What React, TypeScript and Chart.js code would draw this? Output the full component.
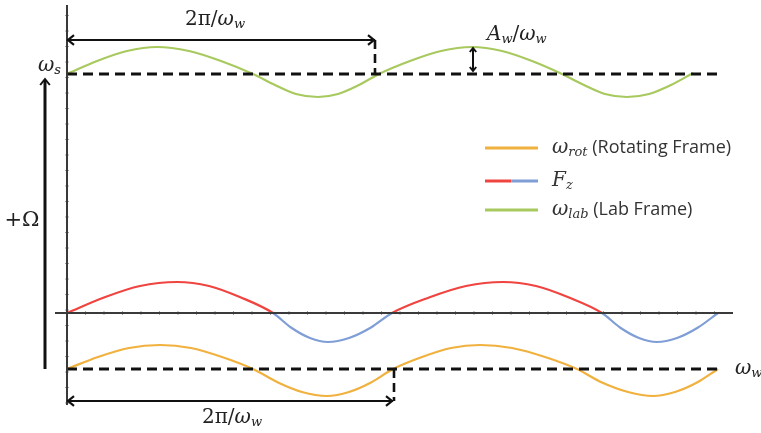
import { useEffect, useRef } from 'react';
import { Chart, registerables } from 'chart.js';

Chart.register(...registerables);

// Schematic units: x = time (origin at the vertical axis), y = frequency (origin at the F_z axis)
const labT = [0, 30, 60, 90, 122, 154, 186, 208, 229, 251, 271, 292, 312, 343, 374, 405, 435, 465, 495, 517, 538, 560, 582, 604, 626];
const labV = [239, 252, 262, 266, 262, 252, 239, 228, 219, 216, 219, 228, 239, 252, 262, 266, 262, 252, 239, 228, 219, 216, 219, 228, 240];

const fzT = [0, 37, 73, 110, 142, 174, 206, 224, 243, 261, 282, 304, 325, 362, 399, 436, 469, 502, 535, 553, 572, 590, 610, 631, 651];
const fzV = [0, 15.5, 27, 31, 27, 15.5, 0, -14.5, -25, -29, -25, -14.5, 0, 15.5, 27, 31, 27, 15.5, 0, -14.5, -25, -29, -25, -14.5, 0];

const rotT = [0, 31, 62, 93, 124, 155, 186, 211, 235, 260, 282, 304, 326, 355, 384, 413, 445, 478, 510, 535, 561, 586, 608, 630, 651];
const rotV = [-56, -44, -35, -32, -35, -44, -56, -69.5, -79, -83, -79, -69.5, -56, -44, -35, -32, -35, -44, -56, -69.5, -79, -83, -79, -69.5, -56];

const omegaS = 239;      // ω_s level
const omegaW = -56;      // ω_w level
const baseEnd = 653;     // end of dashed reference lines
const periodTop = 308;   // 2π/ω_w marker (lab frame)
const periodBottom = 326; // 2π/ω_w marker (rotating frame)

const legendItems = ['ω_rot (Rotating Frame)', 'F_z', 'ω_lab (Lab Frame)'];

const GREEN = '#a8c95e';
const RED = '#ef4440';
const BLUE = '#7f9ed6';
const ORANGE = '#f1b13e';
const AXIS = '#3a3a3a';

const MATH = '"DejaVu Serif", "Liberation Serif", serif';
const SANS = '"Open Sans", "Noto Sans", sans-serif';

type Part = { t: string; f: string; dy?: number };

function drawRich(ctx: CanvasRenderingContext2D, x: number, y: number, parts: Part[], align: 'left' | 'center') {
  ctx.save();
  ctx.textBaseline = 'middle';
  ctx.textAlign = 'left';
  let w = 0;
  for (const p of parts) {
    ctx.font = p.f;
    w += ctx.measureText(p.t).width;
  }
  let cx = align === 'center' ? x - w / 2 : x;
  for (const p of parts) {
    ctx.font = p.f;
    ctx.fillText(p.t, cx, y + (p.dy || 0));
    cx += ctx.measureText(p.t).width;
  }
  ctx.restore();
}

function arrowHead(ctx: CanvasRenderingContext2D, x: number, y: number, dir: 'l' | 'r' | 'u' | 'd', s = 6) {
  ctx.beginPath();
  if (dir === 'l') { ctx.moveTo(x + s, y - s * 0.8); ctx.lineTo(x, y); ctx.lineTo(x + s, y + s * 0.8); }
  if (dir === 'r') { ctx.moveTo(x - s, y - s * 0.8); ctx.lineTo(x, y); ctx.lineTo(x - s, y + s * 0.8); }
  if (dir === 'u') { ctx.moveTo(x - s * 0.8, y + s); ctx.lineTo(x, y); ctx.lineTo(x + s * 0.8, y + s); }
  if (dir === 'd') { ctx.moveTo(x - s * 0.8, y - s); ctx.lineTo(x, y); ctx.lineTo(x + s * 0.8, y - s); }
  ctx.stroke();
}

const annotPlugin = {
  id: 'annot',
  beforeDatasetsDraw(chart: any) {
    const ctx: CanvasRenderingContext2D = chart.ctx;
    const xs = chart.scales.x, ys = chart.scales.y;
    const X = (v: number) => xs.getPixelForValue(v);
    const Y = (v: number) => ys.getPixelForValue(v);
    ctx.save();
    ctx.strokeStyle = '#a0a0a0';
    ctx.lineWidth = 1;
    // small tick marks on the axes
    for (let v = 18.5; v < 660; v += 18.5) {
      ctx.beginPath();
      ctx.moveTo(X(v), Y(0) - 2);
      ctx.lineTo(X(v), Y(0) + 2);
      ctx.stroke();
    }
    for (let v = -90; v < 305; v += 15.5) {
      ctx.beginPath();
      ctx.moveTo(X(0) - 2, Y(v));
      ctx.lineTo(X(0) + 2, Y(v));
      ctx.stroke();
    }
    ctx.restore();
  },
  afterDatasetsDraw(chart: any) {
    const ctx: CanvasRenderingContext2D = chart.ctx;
    const xs = chart.scales.x, ys = chart.scales.y;
    const X = (v: number) => xs.getPixelForValue(v);
    const Y = (v: number) => ys.getPixelForValue(v);
    ctx.save();
    ctx.strokeStyle = '#111';
    ctx.fillStyle = '#222';
    ctx.lineCap = 'butt';

    // top period arrow
    ctx.lineWidth = 2.2;
    const yt = Y(omegaS + 34);
    ctx.beginPath(); ctx.moveTo(X(0), yt); ctx.lineTo(X(periodTop), yt); ctx.stroke();
    arrowHead(ctx, X(0) + 1, yt, 'l');
    arrowHead(ctx, X(periodTop) - 1, yt, 'r');
    ctx.setLineDash([9, 5]);
    ctx.lineWidth = 2.6;
    ctx.beginPath(); ctx.moveTo(X(periodTop), yt); ctx.lineTo(X(periodTop), Y(omegaS)); ctx.stroke();
    ctx.setLineDash([]);

    // bottom period arrow
    ctx.lineWidth = 2.2;
    const yb = Y(omegaW - 32);
    ctx.beginPath(); ctx.moveTo(X(0), yb); ctx.lineTo(X(periodBottom), yb); ctx.stroke();
    arrowHead(ctx, X(0) + 1, yb, 'l');
    arrowHead(ctx, X(periodBottom) - 1, yb, 'r');
    ctx.setLineDash([9, 5]);
    ctx.lineWidth = 2.6;
    ctx.beginPath(); ctx.moveTo(X(periodBottom + 1), Y(omegaW)); ctx.lineTo(X(periodBottom + 1), yb); ctx.stroke();
    ctx.setLineDash([]);

    // amplitude arrow
    ctx.lineWidth = 2;
    const xa = X(406);
    ctx.beginPath(); ctx.moveTo(xa, Y(265)); ctx.lineTo(xa, Y(242)); ctx.stroke();
    arrowHead(ctx, xa, Y(265), 'u', 4);
    arrowHead(ctx, xa, Y(242), 'd', 4);

    // big +Ω arrow
    ctx.lineWidth = 3;
    const xo = X(-22);
    ctx.beginPath(); ctx.moveTo(xo, Y(omegaW)); ctx.lineTo(xo, Y(omegaS - 6)); ctx.stroke();
    ctx.lineWidth = 2;
    arrowHead(ctx, xo, Y(omegaS - 5), 'u', 6);

    // texts
    ctx.fillStyle = '#222';
    const big = `20px ${MATH}`;
    const bigI = `italic 20px ${MATH}`;
    const sub = `italic 13px ${MATH}`;
    drawRich(ctx, X(148), Y(293), [
      { t: '2π/', f: big }, { t: 'ω', f: bigI }, { t: 'w', f: sub, dy: 5 },
    ], 'center');
    drawRich(ctx, X(165), Y(-105), [
      { t: '2π/', f: big }, { t: 'ω', f: bigI }, { t: 'w', f: sub, dy: 5 },
    ], 'center');
    drawRich(ctx, X(420), Y(278), [
      { t: 'A', f: bigI }, { t: 'w', f: sub, dy: 5 }, { t: '/', f: big }, { t: 'ω', f: bigI }, { t: 'w', f: sub, dy: 5 },
    ], 'left');
    drawRich(ctx, X(-29), Y(247), [
      { t: 'ω', f: bigI }, { t: 's', f: sub, dy: 5 },
    ], 'left');
    drawRich(ctx, X(668), Y(-56), [
      { t: 'ω', f: bigI }, { t: 'w', f: sub, dy: 5 },
    ], 'left');
    drawRich(ctx, X(-45), Y(92), [
      { t: '+Ω', f: `21px ${MATH}` },
    ], 'center');

    // legend
    const lx0 = 485, lx1 = 538, tx = 552;
    const rows = [148, 181, 210];
    const legI = `italic 20px ${MATH}`;
    const legS = `italic 13px ${MATH}`;
    const legT = `18px ${SANS}`;
    ctx.lineWidth = 3;
    ctx.strokeStyle = ORANGE;
    ctx.beginPath(); ctx.moveTo(lx0, rows[0]); ctx.lineTo(lx1, rows[0]); ctx.stroke();
    ctx.strokeStyle = RED;
    ctx.beginPath(); ctx.moveTo(lx0, rows[1]); ctx.lineTo((lx0 + lx1) / 2, rows[1]); ctx.stroke();
    ctx.strokeStyle = BLUE;
    ctx.beginPath(); ctx.moveTo((lx0 + lx1) / 2, rows[1]); ctx.lineTo(lx1, rows[1]); ctx.stroke();
    ctx.strokeStyle = GREEN;
    ctx.beginPath(); ctx.moveTo(lx0, rows[2]); ctx.lineTo(lx1, rows[2]); ctx.stroke();

    ctx.fillStyle = '#333';
    legendItems.forEach((item, i) => {
      const m = item.match(/^(.)_(\S+)(.*)$/);
      if (!m) return;
      drawRich(ctx, tx, rows[i], [
        { t: m[1], f: legI }, { t: m[2], f: legS, dy: 5 }, { t: m[3], f: legT, dy: 0 },
      ], 'left');
    });
    ctx.restore();
  },
};

function pts(t: number[], v: number[]) {
  return t.map((x, i) => ({ x, y: v[i] }));
}

export default function App() {
  const ref = useRef<HTMLCanvasElement | null>(null);
  useEffect(() => {
    if (!ref.current) return;
    const curve = { pointRadius: 0, borderWidth: 2.2, cubicInterpolationMode: 'monotone' as const, fill: false };
    const chart = new Chart(ref.current, {
      type: 'line',
      data: {
        datasets: [
          { data: pts([0, 0], [-92, 308]), borderColor: AXIS, borderWidth: 2, pointRadius: 0 },
          { data: pts([-12, 666], [0, 0]), borderColor: AXIS, borderWidth: 2, pointRadius: 0 },
          { data: pts([0, baseEnd], [omegaS, omegaS]), borderColor: '#111', borderWidth: 3, borderDash: [10, 6], pointRadius: 0 },
          { data: pts([0, baseEnd], [omegaW, omegaW]), borderColor: '#111', borderWidth: 3, borderDash: [10, 6], pointRadius: 0 },
          { ...curve, data: pts(labT, labV), borderColor: GREEN },
          {
            ...curve,
            data: pts(fzT, fzV),
            borderColor: RED,
            segment: {
              borderColor: (c: any) => ((c.p0.parsed.y + c.p1.parsed.y) / 2 >= 0 ? RED : BLUE),
            },
          },
          { ...curve, data: pts(rotT, rotV), borderColor: ORANGE },
        ],
      },
      options: {
        animation: false,
        responsive: true,
        maintainAspectRatio: false,
        layout: { padding: 0 },
        parsing: false as any,
        scales: {
          x: { type: 'linear', min: -67, max: 694, display: false },
          y: { type: 'linear', min: -120, max: 313, display: false },
        },
        plugins: { legend: { display: false }, tooltip: { enabled: false } },
      },
      plugins: [annotPlugin],
    });
    return () => chart.destroy();
  }, []);
  return (
    <div style={{ position: 'fixed', left: 0, top: 0, width: 761, height: 433, background: '#fff' }}>
      <canvas ref={ref} />
    </div>
  );
}
